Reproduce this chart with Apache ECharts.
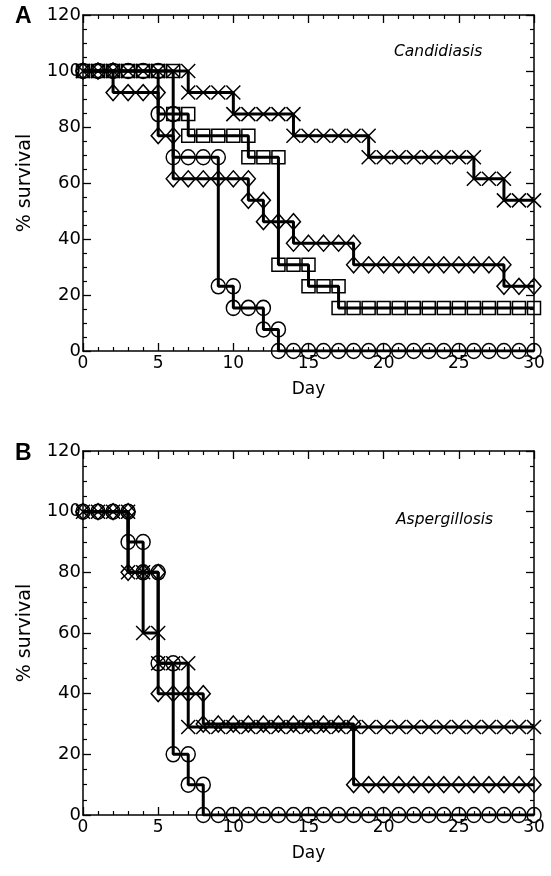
<!DOCTYPE html>
<html>
<head>
<meta charset="utf-8">
<script src="https://cdn.jsdelivr.net/npm/echarts@6/dist/echarts.min.js"></script>
<style>
html,body{margin:0;padding:0;background:#fff;}
#chart{width:551px;height:876px;}
</style>
</head>
<body>
<div id="chart"></div>
<script>
var days = [0,1,2,3,4,5,6,7,8,9,10,11,12,13,14,15,16,17,18,19,20,21,22,23,24,25,26,27,28,29,30];
var dayTicks = [0,5,10,15,20,25,30];
var survTicks = [0,20,40,60,80,100,120];

// A - Candidiasis
var aCross   = [100,100,100,100,100,100,100,92.3,92.3,92.3,84.6,84.6,84.6,84.6,76.9,76.9,76.9,76.9,76.9,69.2,69.2,69.2,69.2,69.2,69.2,69.2,61.5,61.5,53.8,53.8,53.8];
var aSquare  = [100,100,100,100,100,100,84.6,76.9,76.9,76.9,76.9,69.2,69.2,30.8,30.8,23.1,23.1,15.4,15.4,15.4,15.4,15.4,15.4,15.4,15.4,15.4,15.4,15.4,15.4,15.4,15.4];
var aCircle  = [100,100,100,100,100,84.6,69.2,69.2,69.2,23.1,15.4,15.4,7.7,0,0,0,0,0,0,0,0,0,0,0,0,0,0,0,0,0,0];
var aDiamond = [100,100,92.3,92.3,92.3,76.9,61.5,61.5,61.5,61.5,61.5,53.8,46.2,46.2,38.5,38.5,38.5,38.5,30.8,30.8,30.8,30.8,30.8,30.8,30.8,30.8,30.8,30.8,23.1,23.1,23.1];

// B - Aspergillosis
var bCross   = [100,100,100,80,60,50,50,29,29,29,29,29,29,29,29,29,29,29,29,29,29,29,29,29,29,29,29,29,29,29,29];
var bCircle  = [100,100,100,90,80,50,20,10,0,0,0,0,0,0,0,0,0,0,0,0,0,0,0,0,0,0,0,0,0,0,0];
var bDiamond = [100,100,100,80,80,40,40,40,30,30,30,30,30,30,30,30,30,30,10,10,10,10,10,10,10,10,10,10,10,10,10];

var crossPath = 'path://M0,0L10,10M10,0L0,10';
var font = 'DejaVu Sans, Verdana, sans-serif';

// step curve: on a drop day keep a mark at the old level and at the new one
function steps(vals) {
    var pts = [];
    for (var i = 0; i < days.length; i++) {
        if (i > 0 && vals[i] !== vals[i - 1]) {
            pts.push([days[i], vals[i - 1]]);
        }
        pts.push([days[i], vals[i]]);
    }
    return pts;
}

function curve(vals, symbol, size, g) {
    return {
        type: 'line',
        xAxisIndex: g * 2,
        yAxisIndex: g * 2,
        data: steps(vals),
        symbol: symbol,
        symbolSize: size,
        showAllSymbol: true,
        lineStyle: {color: '#000', width: 3},
        itemStyle: {color: 'rgba(0,0,0,0)', borderColor: '#000', borderWidth: 1.5},
        z: 3
    };
}

function xAxes(g) {
    var base = {
        type: 'value', gridIndex: g,
        min: dayTicks[0], max: dayTicks[dayTicks.length - 1],
        interval: dayTicks[1] - dayTicks[0],
        splitLine: {show: false},
        axisLine: {show: true, onZero: false, lineStyle: {color: '#000', width: 1.5}},
        axisTick: {show: true, inside: true, length: 8, lineStyle: {color: '#000', width: 1.3}},
        minorTick: {show: true, splitNumber: 5, length: 4, lineStyle: {color: '#000', width: 1.2}}
    };
    var bottom = echarts.util.merge({
        position: 'bottom',
        name: 'Day', nameLocation: 'middle', nameGap: 30,
        nameTextStyle: {fontFamily: font, fontSize: 17, color: '#000'},
        axisLabel: {fontFamily: font, fontSize: 17, color: '#000', margin: 4}
    }, base);
    var top = echarts.util.merge({
        position: 'top', axisLabel: {show: false}
    }, base);
    return [bottom, top];
}

function yAxes(g) {
    var base = {
        type: 'value', gridIndex: g,
        min: survTicks[0], max: survTicks[survTicks.length - 1],
        interval: survTicks[1] - survTicks[0],
        splitLine: {show: false},
        axisLine: {show: true, onZero: false, lineStyle: {color: '#000', width: 1.5}},
        axisTick: {show: true, inside: true, length: 8, lineStyle: {color: '#000', width: 1.3}},
        minorTick: {show: true, splitNumber: 4, length: 4, lineStyle: {color: '#000', width: 1.2}}
    };
    var left = echarts.util.merge({
        position: 'left',
        name: '% survival', nameLocation: 'middle', nameGap: 48, nameRotate: 90,
        nameTextStyle: {fontFamily: font, fontSize: 19, color: '#000'},
        axisLabel: {fontFamily: font, fontSize: 18, color: '#000', margin: 2}
    }, base);
    var right = echarts.util.merge({
        position: 'right', axisLabel: {show: false}
    }, base);
    return [left, right];
}

var myChart = echarts.init(document.getElementById('chart'), null, {renderer: 'canvas'});

var option = {
    animation: false,
    backgroundColor: '#fff',
    grid: [
        {left: 83, top: 15, width: 451, height: 336},
        {left: 83, top: 451, width: 451, height: 364}
    ],
    xAxis: xAxes(0).concat(xAxes(1)),
    yAxis: yAxes(0).concat(yAxes(1)),
    graphic: [
        {type: 'text', left: 15, top: 5, style: {text: 'A', font: 'bold 23px Liberation Sans, Arial, sans-serif', fill: '#000'}},
        {type: 'text', left: 15, top: 442, style: {text: 'B', font: 'bold 23px Liberation Sans, Arial, sans-serif', fill: '#000'}},
        {type: 'text', left: 394, top: 44, style: {text: 'Candidiasis', font: 'italic 15.5px ' + font, fill: '#000'}},
        {type: 'text', left: 396, top: 512, style: {text: 'Aspergillosis', font: 'italic 15.5px ' + font, fill: '#000'}}
    ],
    series: [
        curve(aCircle, 'circle', [14, 15], 0),
        curve(aSquare, 'rect', 13, 0),
        curve(aDiamond, 'diamond', [14, 16], 0),
        curve(aCross, crossPath, 14, 0),
        curve(bCircle, 'circle', [14, 15], 1),
        curve(bDiamond, 'diamond', [14, 16], 1),
        curve(bCross, crossPath, 14, 1)
    ]
};
myChart.setOption(option);
</script>
</body>
</html>
